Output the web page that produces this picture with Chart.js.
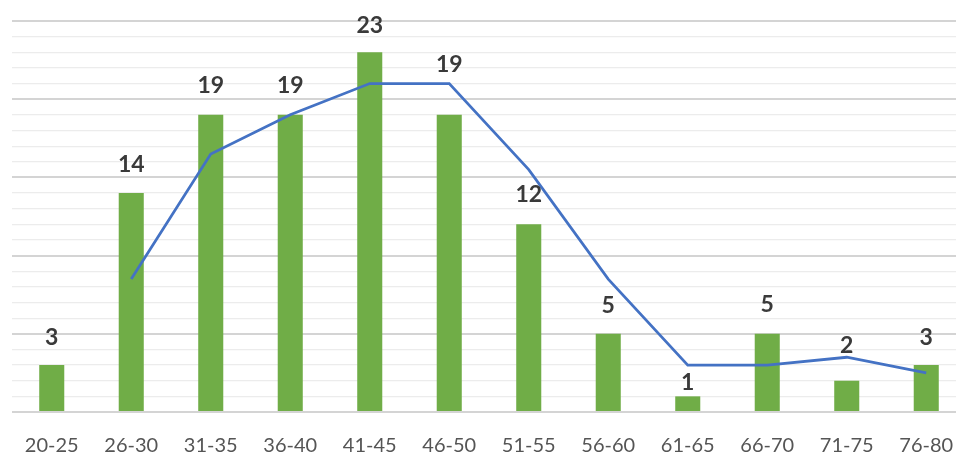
<!DOCTYPE html>
<html>
<head>
<meta charset="utf-8">
<script src="https://cdn.jsdelivr.net/npm/chart.js@4/dist/chart.umd.min.js"></script>
<style>
  html, body { margin: 0; padding: 0; background: #ffffff; overflow: hidden; }
  #wrap { width: 980px; height: 456px; }
</style>
</head>
<body>
<div id="wrap"><canvas id="c" width="980" height="456"></canvas></div>
<script>
// Age bands and counts
const ageBands = ['20-25', '26-30', '31-35', '36-40', '41-45', '46-50', '51-55', '56-60', '61-65', '66-70', '71-75', '76-80'];
const counts = [3, 14, 19, 19, 23, 19, 12, 5, 1, 5, 2, 3];
// Two-period moving average trend
const trend = [null, 8.5, 16.5, 19, 21, 21, 15.5, 8.5, 3, 3, 3.5, 2.5];

// Vertical distance (px) from bar top to the centre of its value label
const labelRaise = [28, 28, 29, 29, 27, 50, 30, 28, 14, 29, 35, 28];

const valueLabels = {
  id: 'valueLabels',
  afterDatasetsDraw(chart) {
    const ctx = chart.ctx;
    const meta = chart.getDatasetMeta(1);
    ctx.save();
    ctx.font = 'bold 23px Lato, "Open Sans", sans-serif';
    ctx.fillStyle = '#3a3a3a';
    ctx.textAlign = 'center';
    ctx.textBaseline = 'middle';
    meta.data.forEach((bar, i) => {
      ctx.fillText(String(counts[i]), bar.x, bar.y - labelRaise[i]);
    });
    ctx.restore();
  }
};

new Chart(document.getElementById('c'), {
  data: {
    labels: ageBands,
    datasets: [
      {
        type: 'line',
        data: trend,
        borderColor: '#4472C4',
        borderWidth: 2.75,
        pointRadius: 0,
        tension: 0,
        order: 0
      },
      {
        type: 'bar',
        data: counts,
        backgroundColor: '#70AD47',
        barPercentage: 0.315,
        categoryPercentage: 1,
        order: 1
      }
    ]
  },
  options: {
    responsive: false,
    animation: false,
    layout: { padding: { left: 12, right: 14, top: 21, bottom: 0 } },
    plugins: { legend: { display: false }, tooltip: { enabled: false } },
    scales: {
      x: {
        grid: { display: false, drawTicks: false },
        border: { display: false },
        ticks: {
          padding: 22,
          color: '#555555',
          font: { family: 'Lato, "Open Sans", sans-serif', size: 20 }
        },
        afterFit(scale) { scale.height = 44; }
      },
      y: {
        min: 0,
        max: 25,
        border: { display: false },
        ticks: { display: false, stepSize: 1 },
        grid: {
          drawTicks: false,
          color: (c) => (c.tick.value % 5 === 0 ? '#d4d4d4' : '#ececec'),
          lineWidth: (c) => (c.tick.value % 5 === 0 ? 2 : 1.2)
        },
        afterFit(scale) { scale.width = 0; }
      }
    }
  },
  plugins: [valueLabels]
});
</script>
</body>
</html>
